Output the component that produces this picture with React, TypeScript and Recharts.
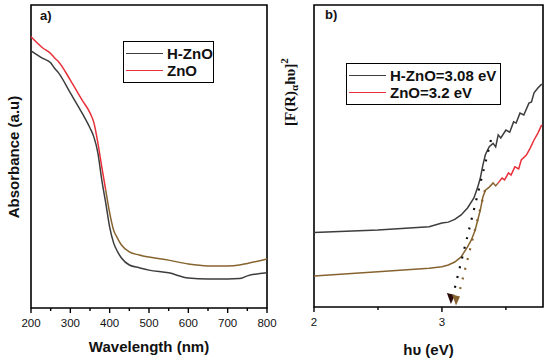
import { LineChart, Line, XAxis, YAxis, ReferenceArea, Label } from "recharts";

// ---- panel a) UV-vis absorbance ----
const wavelength = [200, 230, 250, 260, 270, 300, 330, 350, 360, 370, 380, 390, 400, 410, 420, 430, 450, 475, 500, 550, 600, 650, 700, 730, 750, 800];
const absHZnO = [84.9, 82.4, 80.9, 79.1, 77.6, 71.0, 64.3, 59.4, 56.4, 51.2, 42.2, 34.7, 26.7, 21.5, 18.6, 16.5, 14.2, 13.3, 12.5, 11.6, 9.9, 9.6, 9.6, 9.7, 10.6, 11.6];
const absZnO = [89.5, 85.8, 84.0, 82.5, 81.3, 75.2, 68.6, 64.4, 61.1, 54.5, 46.5, 38.9, 31.4, 25.7, 23.0, 20.8, 18.5, 17.5, 16.8, 15.8, 14.5, 13.9, 13.9, 14.2, 14.7, 16.2];
const absSplit = 390; // ZnO curve shows brown past this point (overlap tint)
const wlTicks = [200, 300, 400, 500, 600, 700, 800];
const wlMinor = [250, 350, 450, 550, 650, 750];

// ---- panel b) Tauc plot ----
const energyH = [2.0, 2.5, 2.9, 3.0, 3.05, 3.1, 3.15, 3.2, 3.25, 3.28, 3.3, 3.32, 3.34, 3.37, 3.4, 3.42, 3.44, 3.46, 3.5, 3.53, 3.56, 3.58, 3.61, 3.64, 3.68, 3.7, 3.72, 3.75, 3.78];
const taucH = [24.7, 25.5, 26.6, 27.8, 28.1, 29.0, 30.5, 32.8, 36.1, 39.7, 42.7, 47.0, 50.5, 53.1, 54.2, 53.0, 57.0, 56.0, 58.6, 57.9, 61.3, 60.9, 64.2, 63.6, 67.5, 67.9, 70.9, 72.5, 73.8];
const energyZ = [2.0, 2.5, 2.9, 3.0, 3.05, 3.1, 3.15, 3.2, 3.23, 3.26, 3.28, 3.3, 3.32, 3.34, 3.37, 3.4, 3.42, 3.44, 3.47, 3.49, 3.52, 3.54, 3.57, 3.6, 3.62, 3.66, 3.69, 3.72, 3.75, 3.78];
const taucZ = [10.3, 11.7, 12.8, 13.3, 13.9, 14.9, 16.6, 19.9, 22.2, 25.5, 28.8, 32.1, 36.4, 38.7, 39.7, 41.1, 40.1, 41.1, 42.7, 42.1, 44.4, 43.7, 46.4, 45.7, 48.7, 50.3, 52.6, 55.3, 57.6, 60.3];
const taucSplit = 3.44;
const tangentHE = [3.383, 3.07];
const tangentHV = [55.3, 1.0];
const tangentZE = [3.336, 3.11];
const tangentZV = [38.7, 0.5];
const eTicks = [2, 3];
const eMinor = [2.5, 3.5];

const BLACK = "#3d3d3d";
const RED = "#e8303a";
const BROWN = "#86632f";
const FONT = "'Liberation Sans', Arial, sans-serif";

const wlData = wavelength.map((w, i) => ({
  w,
  h: absHZnO[i],
  zr: w <= absSplit ? absZnO[i] : null,
  zb: w >= absSplit ? absZnO[i] : null,
}));
const hData = energyH.map((e, i) => ({ e, v: taucH[i] }));
const zRed = energyZ.map((e, i) => ({ e, v: taucZ[i] })).filter((d) => d.e >= taucSplit);
const zBrown = energyZ.map((e, i) => ({ e, v: taucZ[i] })).filter((d) => d.e <= taucSplit);
const tanH = tangentHE.map((e, i) => ({ e, v: tangentHV[i] }));
const tanZ = tangentZE.map((e, i) => ({ e, v: tangentZV[i] }));

function makeTick(axisY: number, major: number[]) {
  return (props: any) => {
    const { x, payload } = props;
    const isMajor = major.includes(payload.value);
    return (
      <g>
        <line x1={x} x2={x} y1={axisY} y2={axisY + (isMajor ? 5 : 3)} stroke="#000" strokeWidth={1.4} />
        {isMajor && (
          <text x={x} y={axisY + 19} textAnchor="middle" fontSize={11.5} fontFamily={FONT} fill="#111">
            {payload.value}
          </text>
        )}
      </g>
    );
  };
}

function arrowDot(color: string, last: number) {
  return (props: any) => {
    const { cx, cy, index } = props;
    if (index !== last) return <g key={index} />;
    return <path key={index} d={`M${cx - 4},${cy - 11} L${cx + 4},${cy - 9} L${cx},${cy} Z`} fill={color} />;
  };
}

const titleStyle = { fontFamily: FONT, fontWeight: 700, fontSize: 15, fill: "#111" };

function LegendBox({ left, top, width, rowGap, items }: any) {
  return (
    <div
      style={{
        position: "absolute",
        left,
        top,
        width,
        border: "1.5px solid #000",
        boxSizing: "border-box",
        padding: "3px 0 3px 2px",
        fontFamily: FONT,
        fontWeight: 700,
        fontSize: 15,
        color: "#111",
        lineHeight: `${rowGap}px`,
        background: "#fff",
      }}
    >
      {items.map((it: any) => (
        <div key={it.name} style={{ display: "flex", alignItems: "center", whiteSpace: "nowrap" }}>
          <span style={{ display: "inline-block", width: 37, borderTop: `1.5px solid ${it.color}`, marginRight: 4 }} />
          {it.name}
        </div>
      ))}
    </div>
  );
}

export default function App() {
  return (
    <div style={{ position: "absolute", left: 0, top: 0, width: 550, height: 361, background: "#fff", fontFamily: FONT }}>
      <div style={{ position: "absolute", left: 0, top: 0 }}>
        <LineChart width={285} height={361} data={wlData} margin={{ top: 5, right: 18, bottom: 0, left: 0 }}>
          <XAxis
            dataKey="w"
            type="number"
            domain={[200, 800]}
            ticks={[...wlTicks, ...wlMinor]}
            axisLine={false}
            tickLine={false}
            tick={makeTick(308, wlTicks)}
            height={53}
            interval={0}
          >
            <Label
              content={(p: any) => (
                <text x={p.viewBox.x + p.viewBox.width / 2} y={352} textAnchor="middle" style={titleStyle}>
                  Wavelength (nm)
                </text>
              )}
            />
          </XAxis>
          <YAxis type="number" domain={[0, 100]} width={31} tick={false} tickLine={false} axisLine={false}>
            <Label
              content={() => (
                <text x={13} y={157} textAnchor="middle" dominantBaseline="central" transform="rotate(-90 13 157)" style={titleStyle}>
                  Absorbance (a.u)
                </text>
              )}
            />
          </YAxis>
          <ReferenceArea x1={200} x2={800} y1={0} y2={100} fill="none" stroke="#000" strokeWidth={1.6} />
          <Line type="monotone" dataKey="h" stroke={BLACK} strokeWidth={1.5} dot={false} isAnimationActive={false} />
          <Line type="monotone" dataKey="zr" stroke={RED} strokeWidth={1.5} dot={false} isAnimationActive={false} />
          <Line type="monotone" dataKey="zb" stroke={BROWN} strokeWidth={1.5} dot={false} isAnimationActive={false} />
        </LineChart>
      </div>

      <div style={{ position: "absolute", left: 275, top: 0 }}>
        <LineChart width={275} height={361} margin={{ top: 5, right: 7, bottom: 0, left: 0 }}>
          <XAxis
            dataKey="e"
            type="number"
            domain={[2, 3.79]}
            allowDataOverflow
            ticks={[...eTicks, ...eMinor]}
            axisLine={false}
            tickLine={false}
            tick={makeTick(307, eTicks)}
            height={54}
            interval={0}
          >
            <Label
              content={(p: any) => (
                <text x={p.viewBox.x + p.viewBox.width / 2} y={355} textAnchor="middle" style={titleStyle}>
                  hυ (eV)
                </text>
              )}
            />
          </XAxis>
          <YAxis type="number" domain={[0, 100]} width={39} tick={false} tickLine={false} axisLine={false}>
            <Label
              content={() => (
                <text
                  x={15}
                  y={92}
                  textAnchor="middle"
                  dominantBaseline="central"
                  transform="rotate(-90 15 92)"
                  style={{ fontFamily: "'Liberation Serif', 'Times New Roman', serif", fontWeight: 700, fontSize: 15, fill: "#111" }}
                >
                  [F(R)
                  <tspan dy={4} fontSize={11}>α</tspan>
                  <tspan dy={-4}>hυ]</tspan>
                  <tspan dy={-6} fontSize={11}>2</tspan>
                </text>
              )}
            />
          </YAxis>
          <ReferenceArea x1={2} x2={3.79} y1={0} y2={100} fill="none" stroke="#000" strokeWidth={1.6} />
          <Line data={hData} type="linear" dataKey="v" stroke={BLACK} strokeWidth={1.5} dot={false} isAnimationActive={false} />
          <Line data={zBrown} type="linear" dataKey="v" stroke={BROWN} strokeWidth={1.5} dot={false} isAnimationActive={false} />
          <Line data={zRed} type="linear" dataKey="v" stroke={RED} strokeWidth={1.5} dot={false} isAnimationActive={false} />
          <Line
            data={tanH}
            type="linear"
            dataKey="v"
            stroke="#111"
            strokeWidth={2.2}
            strokeDasharray="2 8"
            dot={arrowDot("#2a0a0a", tanH.length - 1)}
            isAnimationActive={false}
          />
          <Line
            data={tanZ}
            type="linear"
            dataKey="v"
            stroke={BROWN}
            strokeWidth={2.2}
            strokeDasharray="2 8"
            dot={arrowDot(BROWN, tanZ.length - 1)}
            isAnimationActive={false}
          />
        </LineChart>
      </div>

      <div style={{ position: "absolute", left: 40, top: 8, fontWeight: 700, fontSize: 13, color: "#111" }}>a)</div>
      <div style={{ position: "absolute", left: 325, top: 7, fontWeight: 700, fontSize: 13, color: "#111" }}>b)</div>

      <LegendBox
        left={123}
        top={41}
        width={91}
        rowGap={17}
        items={[
          { name: "H-ZnO", color: BLACK },
          { name: "ZnO", color: RED },
        ]}
      />
      <LegendBox
        left={346}
        top={63}
        width={155}
        rowGap={17}
        items={[
          { name: "H-ZnO=3.08 eV", color: BLACK },
          { name: "ZnO=3.2 eV", color: RED },
        ]}
      />
    </div>
  );
}
